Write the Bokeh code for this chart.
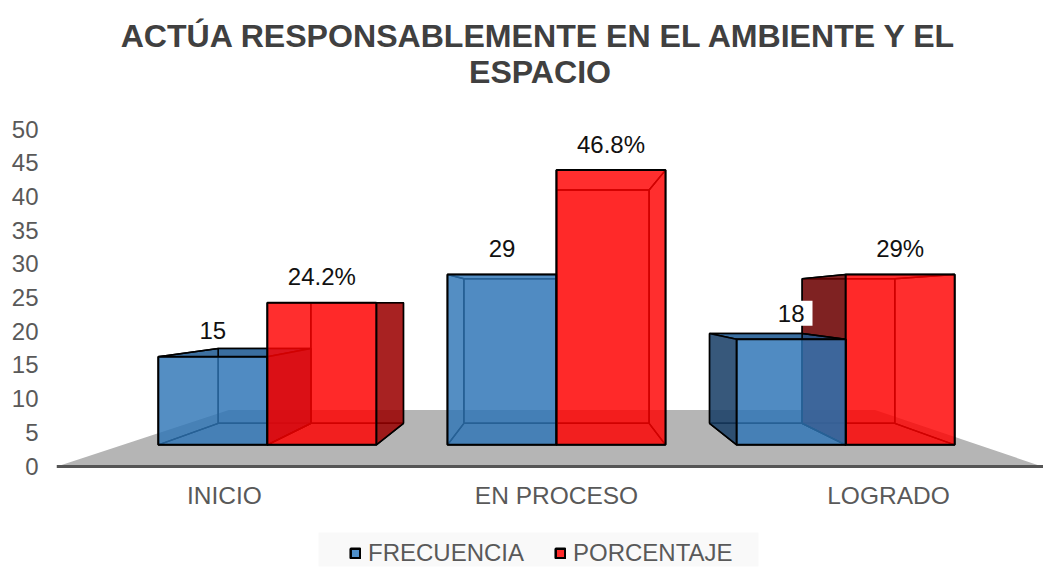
from bokeh.plotting import figure, ColumnDataSource
from bokeh.models import Label, Legend, LegendItem, FixedTicker, Range1d, BoxAnnotation
from bokeh.embed import file_html
from bokeh.resources import INLINE

TITLE_1 = "ACTÚA RESPONSABLEMENTE EN EL AMBIENTE Y EL"
TITLE_2 = "ESPACIO"
categories = ["INICIO", "EN PROCESO", "LOGRADO"]
frecuencia = [15, 29, 18]
porcentaje = [24.2, 46.8, 29]
frecuencia_labels = ["15", "29", "18"]
porcentaje_labels = ["24.2%", "46.8%", "29%"]
y_ticks = list(range(0, 51, 5))

# perspective set-up: the axis lies on the plane s=1; bars sit further back
VX, VY = 1.0, 24.33
S_FLOOR_FRONT, S_FLOOR_BACK = 1.0, 0.658
S_FRONT, S_BACK = 0.871, 0.74
BAR = 0.377
FLOOR_L, FLOOR_R = -0.5, 2.458

PX_X, PX_Y = 332.0, 6.74
W, H = 1043, 567
LEFT = 56
AXIS_PX_Y = 465.5

RED, BLUE = "#ff0000", "#2e75b6"
DARK = {"red_r": "#990000", "red_l": "#690000", "blue_r": "#173d65", "blue_l": "#173d65", "blue_top": "#1b578f", "red_top": "#8a0000"}


def pr(wx, v, s):
    return VX + (wx - VX) * s, VY + (v - VY) * s


def face(pts):
    c = [pr(*q) for q in pts]
    return [a for a, _ in c], [b for _, b in c]


def px_x(px):
    return 1 + (px - 556) / PX_X


def px_y(py):
    return (AXIS_PX_Y - py) / PX_Y


p = figure(width=W, height=H, output_backend="svg", toolbar_location=None,
           x_range=Range1d(px_x(LEFT), px_x(W)), y_range=Range1d(px_y(H), px_y(0)),
           min_border=0, min_border_left=LEFT, min_border_right=0,
           min_border_top=0, min_border_bottom=0,
           outline_line_color=None, background_fill_color="white")
p.grid.visible = False

for t, cx, cy in ((TITLE_1, 539, 35), (TITLE_2, 539.5, 71)):
    p.add_layout(Label(x=px_x(cx), y=px_y(cy), text=t, text_align="center", text_baseline="middle",
                       text_font="Liberation Sans", text_font_size="32.1px",
                       text_font_style="bold", text_color="#404040"))

for ax in (p.xaxis[0], p.yaxis[0]):
    ax.major_tick_in = 0
    ax.major_tick_out = 0
    ax.minor_tick_in = 0
    ax.minor_tick_out = 0
    ax.major_label_text_font = "Liberation Sans"
    ax.major_label_text_color = "#595959"

p.yaxis[0].ticker = FixedTicker(ticks=y_ticks)
p.yaxis[0].axis_line_color = None
p.yaxis[0].major_label_standoff = 18
p.yaxis[0].major_label_text_font_size = "24px"

p.xaxis[0].fixed_location = 0
p.xaxis[0].ticker = FixedTicker(ticks=[0, 1, 2])
p.xaxis[0].major_label_overrides = {i: c for i, c in enumerate(categories)}
p.xaxis[0].axis_line_color = "#555555"
p.xaxis[0].axis_line_width = 3
p.xaxis[0].major_label_standoff = 16
p.xaxis[0].major_label_text_font_size = "24.5px"

# legend strip
p.add_layout(BoxAnnotation(left=px_x(318), right=px_x(758), top=px_y(532), bottom=px_y(566),
                           fill_color="#f9f9f9", fill_alpha=1, line_color=None, level="underlay"))

# floor
fx, fy = face([(FLOOR_L, 0, S_FLOOR_FRONT), (FLOOR_R, 0, S_FLOOR_FRONT),
               (FLOOR_R, 0, S_FLOOR_BACK), (FLOOR_L, 0, S_FLOOR_BACK)])
p.patch(fx, fy, fill_color="#b5b5b5", line_color=None)

xs, ys, fills, alphas, lws = [], [], [], [], []


def add(pts, col, a, lw=1.5):
    x, y = face(pts)
    xs.append(x); ys.append(y); fills.append(col); alphas.append(a); lws.append(lw)


def bar(l, r, v, col, key):
    # back
    add([(l, 0, S_BACK), (r, 0, S_BACK), (r, v, S_BACK), (l, v, S_BACK)], col, 0.12)
    # bottom
    add([(l, 0, S_FRONT), (r, 0, S_FRONT), (r, 0, S_BACK), (l, 0, S_BACK)], col, 0.04)
    # top: outer face only when it sits below the eye level
    top_out = v < VY
    add([(l, v, S_FRONT), (r, v, S_FRONT), (r, v, S_BACK), (l, v, S_BACK)],
        DARK[key + "_top"] if top_out else col, 0.85 if top_out else 0.0)
    # left / right: dark when seen from outside
    left_out = l > VX
    right_out = r < VX
    add([(l, 0, S_FRONT), (l, v, S_FRONT), (l, v, S_BACK), (l, 0, S_BACK)],
        DARK[key + "_l"] if left_out else col, 0.85 if left_out else 0.0)
    add([(r, 0, S_FRONT), (r, v, S_FRONT), (r, v, S_BACK), (r, 0, S_BACK)],
        DARK[key + "_r"] if right_out else col, 0.85 if right_out else 0.0)
    # front
    add([(l, 0, S_FRONT), (r, 0, S_FRONT), (r, v, S_FRONT), (l, v, S_FRONT)], col, 0.82, 2.0)


for i in range(3):
    blue = (i - BAR, i, frecuencia[i], BLUE, "blue")
    red = (i, i + BAR, porcentaje[i], RED, "red")
    for b in ([red, blue] if i > VX else [blue, red]):
        bar(*b)

src = ColumnDataSource(dict(xs=xs, ys=ys, fill=fills, alpha=alphas, lw=lws))
p.patches("xs", "ys", source=src, fill_color="fill", fill_alpha="alpha",
          line_color="black", line_width="lw", line_join="bevel")

# data labels
for vals, texts, side in ((frecuencia, frecuencia_labels, -1), (porcentaje, porcentaje_labels, 1)):
    for i, (v, t) in enumerate(zip(vals, texts)):
        lx, ly = pr(i + side * BAR / 2, v, S_FRONT)
        p.add_layout(Label(x=lx, y=ly, text=t, y_offset=26, text_align="center",
                           text_baseline="middle", text_font="Liberation Sans",
                           text_font_size="24px", text_color="#111111",
                           background_fill_color="white" if t == "18" else None,
                           padding=(8, 4)))

# legend
nan = float("nan")
r1 = p.patch([nan], [nan], fill_color="#4f8fc9", line_color="black", line_width=2.5)
r2 = p.patch([nan], [nan], fill_color="#ff2b2b", line_color="black", line_width=2.5)
leg = Legend(items=[LegendItem(label="FRECUENCIA", renderers=[r1]),
                    LegendItem(label="PORCENTAJE", renderers=[r2])],
             orientation="horizontal", location=(293, 0), border_line_color=None,
             background_fill_alpha=0, glyph_width=12, glyph_height=12, label_standoff=7,
             spacing=30, padding=5, margin=0,
             label_text_font="Liberation Sans", label_text_font_size="24px",
             label_text_color="#595959")
p.add_layout(leg)

open("out.html", "w").write(file_html(p, INLINE))
